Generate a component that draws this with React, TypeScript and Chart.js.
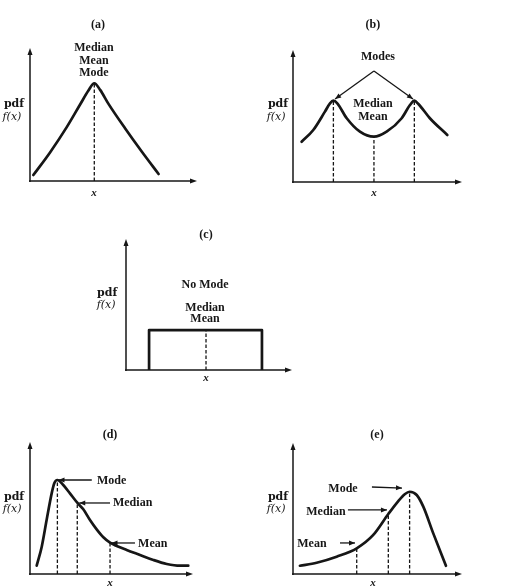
import React, { useEffect, useRef } from "react";
import { Chart, registerables } from "chart.js";

Chart.register(...registerables);

const PAGE_W = 509;
const PAGE_H = 588;

// ---- Panel (a): symmetric unimodal ----
const aX = [0.2, 1.2, 2.2, 3.0, 3.5, 3.85, 4.2, 4.7, 5.7, 6.7, 7.7];
const aY = [0.45, 2.15, 4.05, 5.75, 6.8, 7.35, 6.85, 5.8, 3.95, 2.2, 0.53];
const aMarkX = [3.85];
const aMarkY = [7.35];

// ---- Panel (b): bimodal ----
const bX = [0.51, 1.2, 1.89, 2.19, 2.39, 2.62, 3.18, 3.96, 4.79, 5.54, 6.43, 6.92, 7.18, 7.42, 8.1, 9.13];
const bY = [3.05, 3.94, 5.33, 5.96, 6.16, 5.96, 4.83, 3.81, 3.43, 3.81, 4.83, 5.83, 6.16, 5.91, 4.83, 3.56];
const bMarkX = [2.39, 4.79, 7.18];
const bMarkY = [6.16, 3.43, 6.16];

// ---- Panel (c): uniform ----
const cX = [1.39, 1.39, 8.19, 8.19];
const cY = [0, 3.05, 3.05, 0];
const cMarkX = [4.82];
const cMarkY = [3.05];

// ---- Panel (d): right skewed ----
const dX = [0.41, 0.72, 1.02, 1.33, 1.49, 1.68, 2.04, 2.45, 2.9, 3.27, 3.68, 4.09, 4.5, 4.91, 5.32, 5.93, 6.75, 7.57, 8.39, 9.2, 9.71];
const dY = [0.63, 2.07, 4.09, 6.11, 6.87, 7.12, 6.74, 6.11, 5.4, 4.9, 4.09, 3.38, 2.78, 2.37, 2.12, 1.82, 1.44, 1.06, 0.76, 0.63, 0.63];
const dMarkX = [1.68, 2.9, 4.91];
const dMarkY = [7.12, 5.4, 2.37];

// ---- Panel (e): left skewed ----
const eX = [0.41, 1.4, 2.58, 3.77, 4.75, 5.64, 6.23, 6.63, 6.9, 7.32, 7.71, 8.3, 9.05];
const eY = [0.63, 0.86, 1.32, 1.96, 2.98, 4.58, 5.57, 6.11, 6.28, 6.03, 5.14, 3.1, 0.63];
const eMarkX = [3.77, 5.64, 6.9];
const eMarkY = [1.96, 4.58, 6.28];

const panelTitles = ["(a)", "(b)", "(c)", "(d)", "(e)"];
const yLabel1 = "pdf";
const yLabel2 = "f(x)";
const xLabel = "x";

const INK = "#161616";
const F_LBL = 'bold 12px "Liberation Serif"';
const F_TITLE = 'bold 12px "Liberation Serif"';
const F_PDF = 'bold 11px "DejaVu Serif"';
const F_FX = 'italic 11px "DejaVu Serif"';
const F_X = 'italic bold 11px "Liberation Serif"';

type TextItem = { t: string; x: number; y: number; align?: CanvasTextAlign; font?: string };
type ArrowItem = { x1: number; y1: number; x2: number; y2: number };

interface Panel {
  id: string;
  box: [number, number, number, number]; // left, top, right, bottom of axes
  xs: number[];
  ys: number[];
  smooth: boolean;
  markX: number[];
  markY: number[];
  texts: TextItem[];
  arrows: ArrowItem[];
}

const panels: Panel[] = [
  {
    id: "a",
    box: [30, 48, 197, 181],
    xs: aX, ys: aY, smooth: true, markX: aMarkX, markY: aMarkY,
    texts: [
      { t: panelTitles[0], x: 4.07, y: 11.73, font: F_TITLE },
      { t: "Median", x: 3.83, y: 10.0 },
      { t: "Mean", x: 3.83, y: 9.02 },
      { t: "Mode", x: 3.83, y: 8.12 },
      { t: yLabel1, x: -0.96, y: 5.79, font: F_PDF },
      { t: yLabel2, x: -1.08, y: 4.81, font: F_FX },
      { t: xLabel, x: 3.83, y: -0.9, font: F_X },
    ],
    arrows: [],
  },
  {
    id: "b",
    box: [293, 50, 462, 182],
    xs: bX, ys: bY, smooth: true, markX: bMarkX, markY: bMarkY,
    texts: [
      { t: panelTitles[1], x: 4.73, y: 11.89, font: F_TITLE },
      { t: "Modes", x: 5.03, y: 9.47 },
      { t: "Median", x: 4.73, y: 5.91 },
      { t: "Mean", x: 4.73, y: 4.92 },
      { t: yLabel1, x: -0.89, y: 5.91, font: F_PDF },
      { t: yLabel2, x: -1.0, y: 4.92, font: F_FX },
      { t: xLabel, x: 4.79, y: -0.83, font: F_X },
    ],
    arrows: [
      { x1: 4.79, y1: 8.41, x2: 2.49, y2: 6.29 },
      { x1: 4.79, y1: 8.41, x2: 7.1, y2: 6.29 },
    ],
  },
  {
    id: "c",
    box: [126, 239, 292, 370],
    xs: cX, ys: cY, smooth: false, markX: cMarkX, markY: cMarkY,
    texts: [
      { t: panelTitles[2], x: 4.82, y: 10.31, font: F_TITLE },
      { t: "No Mode", x: 4.76, y: 6.49 },
      { t: "Median", x: 4.76, y: 4.73 },
      { t: "Mean", x: 4.76, y: 3.89 },
      { t: yLabel1, x: -1.14, y: 5.88, font: F_PDF },
      { t: yLabel2, x: -1.2, y: 4.96, font: F_FX },
      { t: xLabel, x: 4.82, y: -0.61, font: F_X },
    ],
    arrows: [],
  },
  {
    id: "d",
    box: [30, 442, 193, 574],
    xs: dX, ys: dY, smooth: true, markX: dMarkX, markY: dMarkY,
    texts: [
      { t: panelTitles[3], x: 4.91, y: 10.53, font: F_TITLE },
      { t: "Mode", x: 4.11, y: 7.05, align: "left" },
      { t: "Median", x: 5.09, y: 5.38, align: "left" },
      { t: "Mean", x: 6.63, y: 2.27, align: "left" },
      { t: yLabel1, x: -0.98, y: 5.83, font: F_PDF },
      { t: yLabel2, x: -1.1, y: 4.92, font: F_FX },
      { t: xLabel, x: 4.91, y: -0.68, font: F_X },
    ],
    arrows: [
      { x1: 3.79, y1: 7.12, x2: 1.75, y2: 7.12 },
      { x1: 4.91, y1: 5.38, x2: 3.02, y2: 5.38 },
      { x1: 6.44, y1: 2.35, x2: 5.0, y2: 2.35 },
    ],
  },
  {
    id: "e",
    box: [293, 443, 462, 574],
    xs: eX, ys: eY, smooth: true, markX: eMarkX, markY: eMarkY,
    texts: [
      { t: panelTitles[4], x: 4.97, y: 10.61, font: F_TITLE },
      { t: "Mode", x: 2.96, y: 6.49 },
      { t: "Median", x: 1.95, y: 4.73 },
      { t: "Mean", x: 1.12, y: 2.29 },
      { t: yLabel1, x: -0.89, y: 5.88, font: F_PDF },
      { t: yLabel2, x: -1.0, y: 4.96, font: F_FX },
      { t: xLabel, x: 4.73, y: -0.69, font: F_X },
    ],
    arrows: [
      { x1: 4.67, y1: 6.64, x2: 6.45, y2: 6.56 },
      { x1: 3.25, y1: 4.89, x2: 5.56, y2: 4.89 },
      { x1: 2.78, y1: 2.37, x2: 3.67, y2: 2.37 },
    ],
  },
];

function arrowHead(ctx: CanvasRenderingContext2D, x1: number, y1: number, x2: number, y2: number, len: number, half: number) {
  const ang = Math.atan2(y2 - y1, x2 - x1);
  ctx.beginPath();
  ctx.moveTo(x2, y2);
  ctx.lineTo(x2 - len * Math.cos(ang) + half * Math.sin(ang), y2 - len * Math.sin(ang) - half * Math.cos(ang));
  ctx.lineTo(x2 - len * Math.cos(ang) - half * Math.sin(ang), y2 - len * Math.sin(ang) + half * Math.cos(ang));
  ctx.closePath();
  ctx.fill();
}

function makeDeco(p: Panel) {
  return {
    id: "deco-" + p.id,
    beforeDatasetsDraw(chart: any) {
      const ctx: CanvasRenderingContext2D = chart.ctx;
      const { left, top, right, bottom } = chart.chartArea;
      const xs = chart.scales.x;
      const ys = chart.scales.y;
      ctx.save();
      ctx.strokeStyle = INK;
      ctx.fillStyle = INK;
      ctx.lineWidth = 1.5;
      ctx.beginPath();
      ctx.moveTo(left, bottom + 1);
      ctx.lineTo(left, top + 3);
      ctx.stroke();
      arrowHead(ctx, left, bottom, left, top, 7, 2.5);
      ctx.beginPath();
      ctx.moveTo(left - 1, bottom);
      ctx.lineTo(right - 3, bottom);
      ctx.stroke();
      arrowHead(ctx, left, bottom, right, bottom, 7, 2.5);
      ctx.lineWidth = 1.3;
      ctx.setLineDash([3.5, 2]);
      p.markX.forEach((mx, i) => {
        const px = xs.getPixelForValue(mx);
        ctx.beginPath();
        ctx.moveTo(px, ys.getPixelForValue(0));
        ctx.lineTo(px, ys.getPixelForValue(p.markY[i]));
        ctx.stroke();
      });
      ctx.restore();
    },
    afterDatasetsDraw(chart: any) {
      const ctx: CanvasRenderingContext2D = chart.ctx;
      const xs = chart.scales.x;
      const ys = chart.scales.y;
      ctx.save();
      ctx.strokeStyle = INK;
      ctx.fillStyle = INK;
      ctx.lineWidth = 1.3;
      p.arrows.forEach((a) => {
        const x1 = xs.getPixelForValue(a.x1);
        const y1 = ys.getPixelForValue(a.y1);
        const x2 = xs.getPixelForValue(a.x2);
        const y2 = ys.getPixelForValue(a.y2);
        ctx.beginPath();
        ctx.moveTo(x1, y1);
        ctx.lineTo(x2, y2);
        ctx.stroke();
        arrowHead(ctx, x1, y1, x2, y2, 6, 2.5);
      });
      ctx.textBaseline = "middle";
      p.texts.forEach((t) => {
        ctx.font = t.font || F_LBL;
        ctx.textAlign = t.align || "center";
        ctx.fillText(t.t, xs.getPixelForValue(t.x), ys.getPixelForValue(t.y));
      });
      ctx.restore();
    },
  };
}

function PanelChart({ p }: { p: Panel }) {
  const ref = useRef<HTMLCanvasElement | null>(null);
  useEffect(() => {
    if (!ref.current) return;
    const [l, t, r, b] = p.box;
    const chart = new Chart(ref.current, {
      type: "line",
      data: {
        datasets: [
          {
            data: p.xs.map((x, i) => ({ x, y: p.ys[i] })),
            borderColor: INK,
            borderWidth: 2.7,
            pointRadius: 0,
            fill: false,
            tension: p.smooth ? 0.4 : 0,
            cubicInterpolationMode: p.smooth ? "monotone" : "default",
            borderJoinStyle: "round",
            borderCapStyle: "round",
          } as any,
        ],
      },
      options: {
        responsive: false,
        animation: false,
        events: [],
        layout: { padding: { left: l, top: t, right: PAGE_W - r, bottom: PAGE_H - b } },
        plugins: { legend: { display: false }, tooltip: { enabled: false } },
        scales: {
          x: { type: "linear", display: false, min: 0, max: 10 },
          y: { type: "linear", display: false, min: 0, max: 10 },
        },
      },
      plugins: [makeDeco(p)],
    });
    return () => chart.destroy();
  }, [p]);
  return (
    <canvas
      ref={ref}
      width={PAGE_W}
      height={PAGE_H}
      style={{ position: "absolute", left: 0, top: 0, width: PAGE_W, height: PAGE_H }}
    />
  );
}

export default function App() {
  return (
    <div
      style={{
        position: "fixed",
        left: 0,
        top: 0,
        width: PAGE_W,
        height: PAGE_H,
        background: "#ffffff",
        overflow: "hidden",
      }}
    >
      {panels.map((p) => (
        <PanelChart key={p.id} p={p} />
      ))}
    </div>
  );
}
